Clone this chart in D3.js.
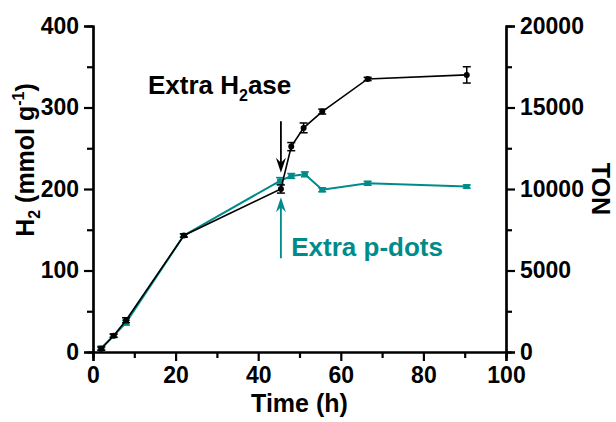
<!DOCTYPE html>
<html>
<head>
<meta charset="utf-8">
<script src="https://cdn.jsdelivr.net/npm/d3@7"></script>
<style>
  body { margin: 0; background: #fff; }
  svg { font-family: "Liberation Sans", Arial, sans-serif; font-weight: bold; }
</style>
</head>
<body>
<div id="chart"></div>
<script>
// H2 produced (left axis) and TON (right axis) over time
const hTime = [2, 5, 8, 22, 45.5, 48, 51, 55.5, 66.5, 90.5];
const hValue = [4, 20, 39, 143, 200, 252, 275, 295, 335, 340];
const hErr = [2, 2, 3, 2, 5, 5, 6, 3, 2, 10];

const tonTime = [2, 5, 8, 22, 45.3, 48, 51.3, 55.5, 66.5, 90.5];
const tonValue = [250, 1000, 1800, 7150, 10500, 10800, 10900, 9950, 10350, 10150];
const tonErr = [100, 100, 150, 100, 200, 150, 150, 120, 120, 100];

const xTicks = [0, 20, 40, 60, 80, 100];
const yTicks = [0, 100, 200, 300, 400];
const y2Ticks = [0, 5000, 10000, 15000, 20000];

const W = 616, H = 422;
const plotL = 93, plotR = 506, plotT = 26, plotB = 352;
const teal = "#008b8b";

const svg = d3.select("#chart").append("svg")
    .attr("width", W)
    .attr("height", H);

const x = d3.scaleLinear().domain([0, 100]).range([plotL, plotR]);
const y = d3.scaleLinear().domain([0, 400]).range([plotB, plotT]);
const y2 = d3.scaleLinear().domain([0, 20000]).range([plotB, plotT]);

function styleAxis(g) {
  g.select(".domain").attr("stroke", "#000").attr("stroke-width", 2.2);
  g.selectAll(".tick line").attr("stroke", "#000").attr("stroke-width", 2.2);
  g.selectAll(".tick text").attr("fill", "#000").style("font-size", "23px").style("font-weight", "bold");
}

// minor ticks first, then major axes on top
svg.append("g")
    .attr("transform", `translate(0,${plotB})`)
    .call(d3.axisBottom(x).tickValues([10, 30, 50, 70, 90]).tickSize(6).tickFormat(""))
    .call(styleAxis);
svg.append("g")
    .attr("transform", `translate(${plotL},0)`)
    .call(d3.axisLeft(y).tickValues([50, 150, 250, 350]).tickSize(6).tickFormat(""))
    .call(styleAxis);
svg.append("g")
    .attr("transform", `translate(${plotR},0)`)
    .call(d3.axisRight(y2).tickValues([2500, 7500, 12500, 17500]).tickSize(6).tickFormat(""))
    .call(styleAxis);

svg.append("g")
    .attr("transform", `translate(0,${plotB})`)
    .call(d3.axisBottom(x).tickValues(xTicks).tickSize(9).tickPadding(6))
    .call(styleAxis);
svg.append("g")
    .attr("transform", `translate(${plotL},0)`)
    .call(d3.axisLeft(y).tickValues(yTicks).tickSize(9).tickPadding(5))
    .call(styleAxis);
svg.append("g")
    .attr("transform", `translate(${plotR},0)`)
    .call(d3.axisRight(y2).tickValues(y2Ticks).tickSize(9).tickPadding(5).tickFormat(d3.format("d")))
    .call(styleAxis);

// axis titles
svg.append("text")
    .attr("x", (plotL + plotR) / 2)
    .attr("y", 412)
    .attr("text-anchor", "middle")
    .style("font-size", "25px")
    .text("Time (h)");

const yTitle = svg.append("text")
    .attr("transform", "translate(34,160) rotate(-90)")
    .attr("text-anchor", "middle")
    .style("font-size", "25px");
yTitle.append("tspan").text("H");
yTitle.append("tspan").attr("dy", 6).style("font-size", "16px").text("2");
yTitle.append("tspan").attr("dy", -6).text(" (mmol g");
yTitle.append("tspan").attr("dy", -10).style("font-size", "16px").text("-1");
yTitle.append("tspan").attr("dy", 10).text(")");

svg.append("text")
    .attr("transform", `translate(592,${(plotT + plotB) / 2}) rotate(90)`)
    .attr("text-anchor", "middle")
    .style("font-size", "25px")
    .text("TON");

const tonData = tonTime.map((t, i) => ({ t: t, v: tonValue[i], e: tonErr[i] }));
const hData = hTime.map((t, i) => ({ t: t, v: hValue[i], e: hErr[i] }));

function drawErr(data, yScale, color, w) {
  const g = svg.append("g").attr("stroke", color).attr("stroke-width", w);
  data.forEach(d => {
    const y0 = yScale(d.v - d.e), y1 = yScale(d.v + d.e);
    g.append("line").attr("x1", x(d.t)).attr("x2", x(d.t)).attr("y1", y0).attr("y2", y1);
    g.append("line").attr("x1", x(d.t) - 4).attr("x2", x(d.t) + 4).attr("y1", y0).attr("y2", y0);
    g.append("line").attr("x1", x(d.t) - 4).attr("x2", x(d.t) + 4).attr("y1", y1).attr("y2", y1);
  });
}

// TON series (teal)
svg.append("path")
    .datum(tonData)
    .attr("fill", "none")
    .attr("stroke", teal)
    .attr("stroke-width", 2)
    .attr("d", d3.line().x(d => x(d.t)).y(d => y2(d.v)));
drawErr(tonData, y2, teal, 1.5);
svg.append("g").selectAll("rect")
    .data(tonData)
    .enter().append("rect")
    .attr("x", d => x(d.t) - 3)
    .attr("y", d => y2(d.v) - 2.5)
    .attr("width", 6)
    .attr("height", 5)
    .attr("fill", teal);

// H2 series (black)
svg.append("path")
    .datum(hData)
    .attr("fill", "none")
    .attr("stroke", "#000")
    .attr("stroke-width", 1.6)
    .attr("d", d3.line().x(d => x(d.t)).y(d => y(d.v)));
drawErr(hData, y, "#000", 1.5);
svg.append("g").selectAll("circle")
    .data(hData)
    .enter().append("circle")
    .attr("cx", d => x(d.t))
    .attr("cy", d => y(d.v))
    .attr("r", 3)
    .attr("fill", "#000");

// annotations
function arrow(t, vFrom, vTo, color) {
  const xa = x(t), ya = y(vFrom), yb = y(vTo);
  const dir = yb > ya ? 1 : -1;
  svg.append("line")
      .attr("x1", xa).attr("x2", xa)
      .attr("y1", ya).attr("y2", yb - dir * 6)
      .attr("stroke", color).attr("stroke-width", 1.8);
  svg.append("path")
      .attr("d", `M${xa},${yb} L${xa - 5},${yb - dir * 15} L${xa},${yb - dir * 10} L${xa + 5},${yb - dir * 15} Z`)
      .attr("fill", color);
}
arrow(45.5, 283, 220, "#000");
arrow(45.5, 115, 190, teal);

const ann1 = svg.append("text")
    .attr("x", x(13.3))
    .attr("y", y(317))
    .style("font-size", "26px")
    .attr("fill", "#000");
ann1.append("tspan").text("Extra H");
ann1.append("tspan").attr("dy", 7).style("font-size", "16px").text("2");
ann1.append("tspan").attr("dy", -7).text("ase");

svg.append("text")
    .attr("x", x(48))
    .attr("y", y(118))
    .style("font-size", "26px")
    .attr("fill", teal)
    .text("Extra p-dots");
</script>
</body>
</html>
